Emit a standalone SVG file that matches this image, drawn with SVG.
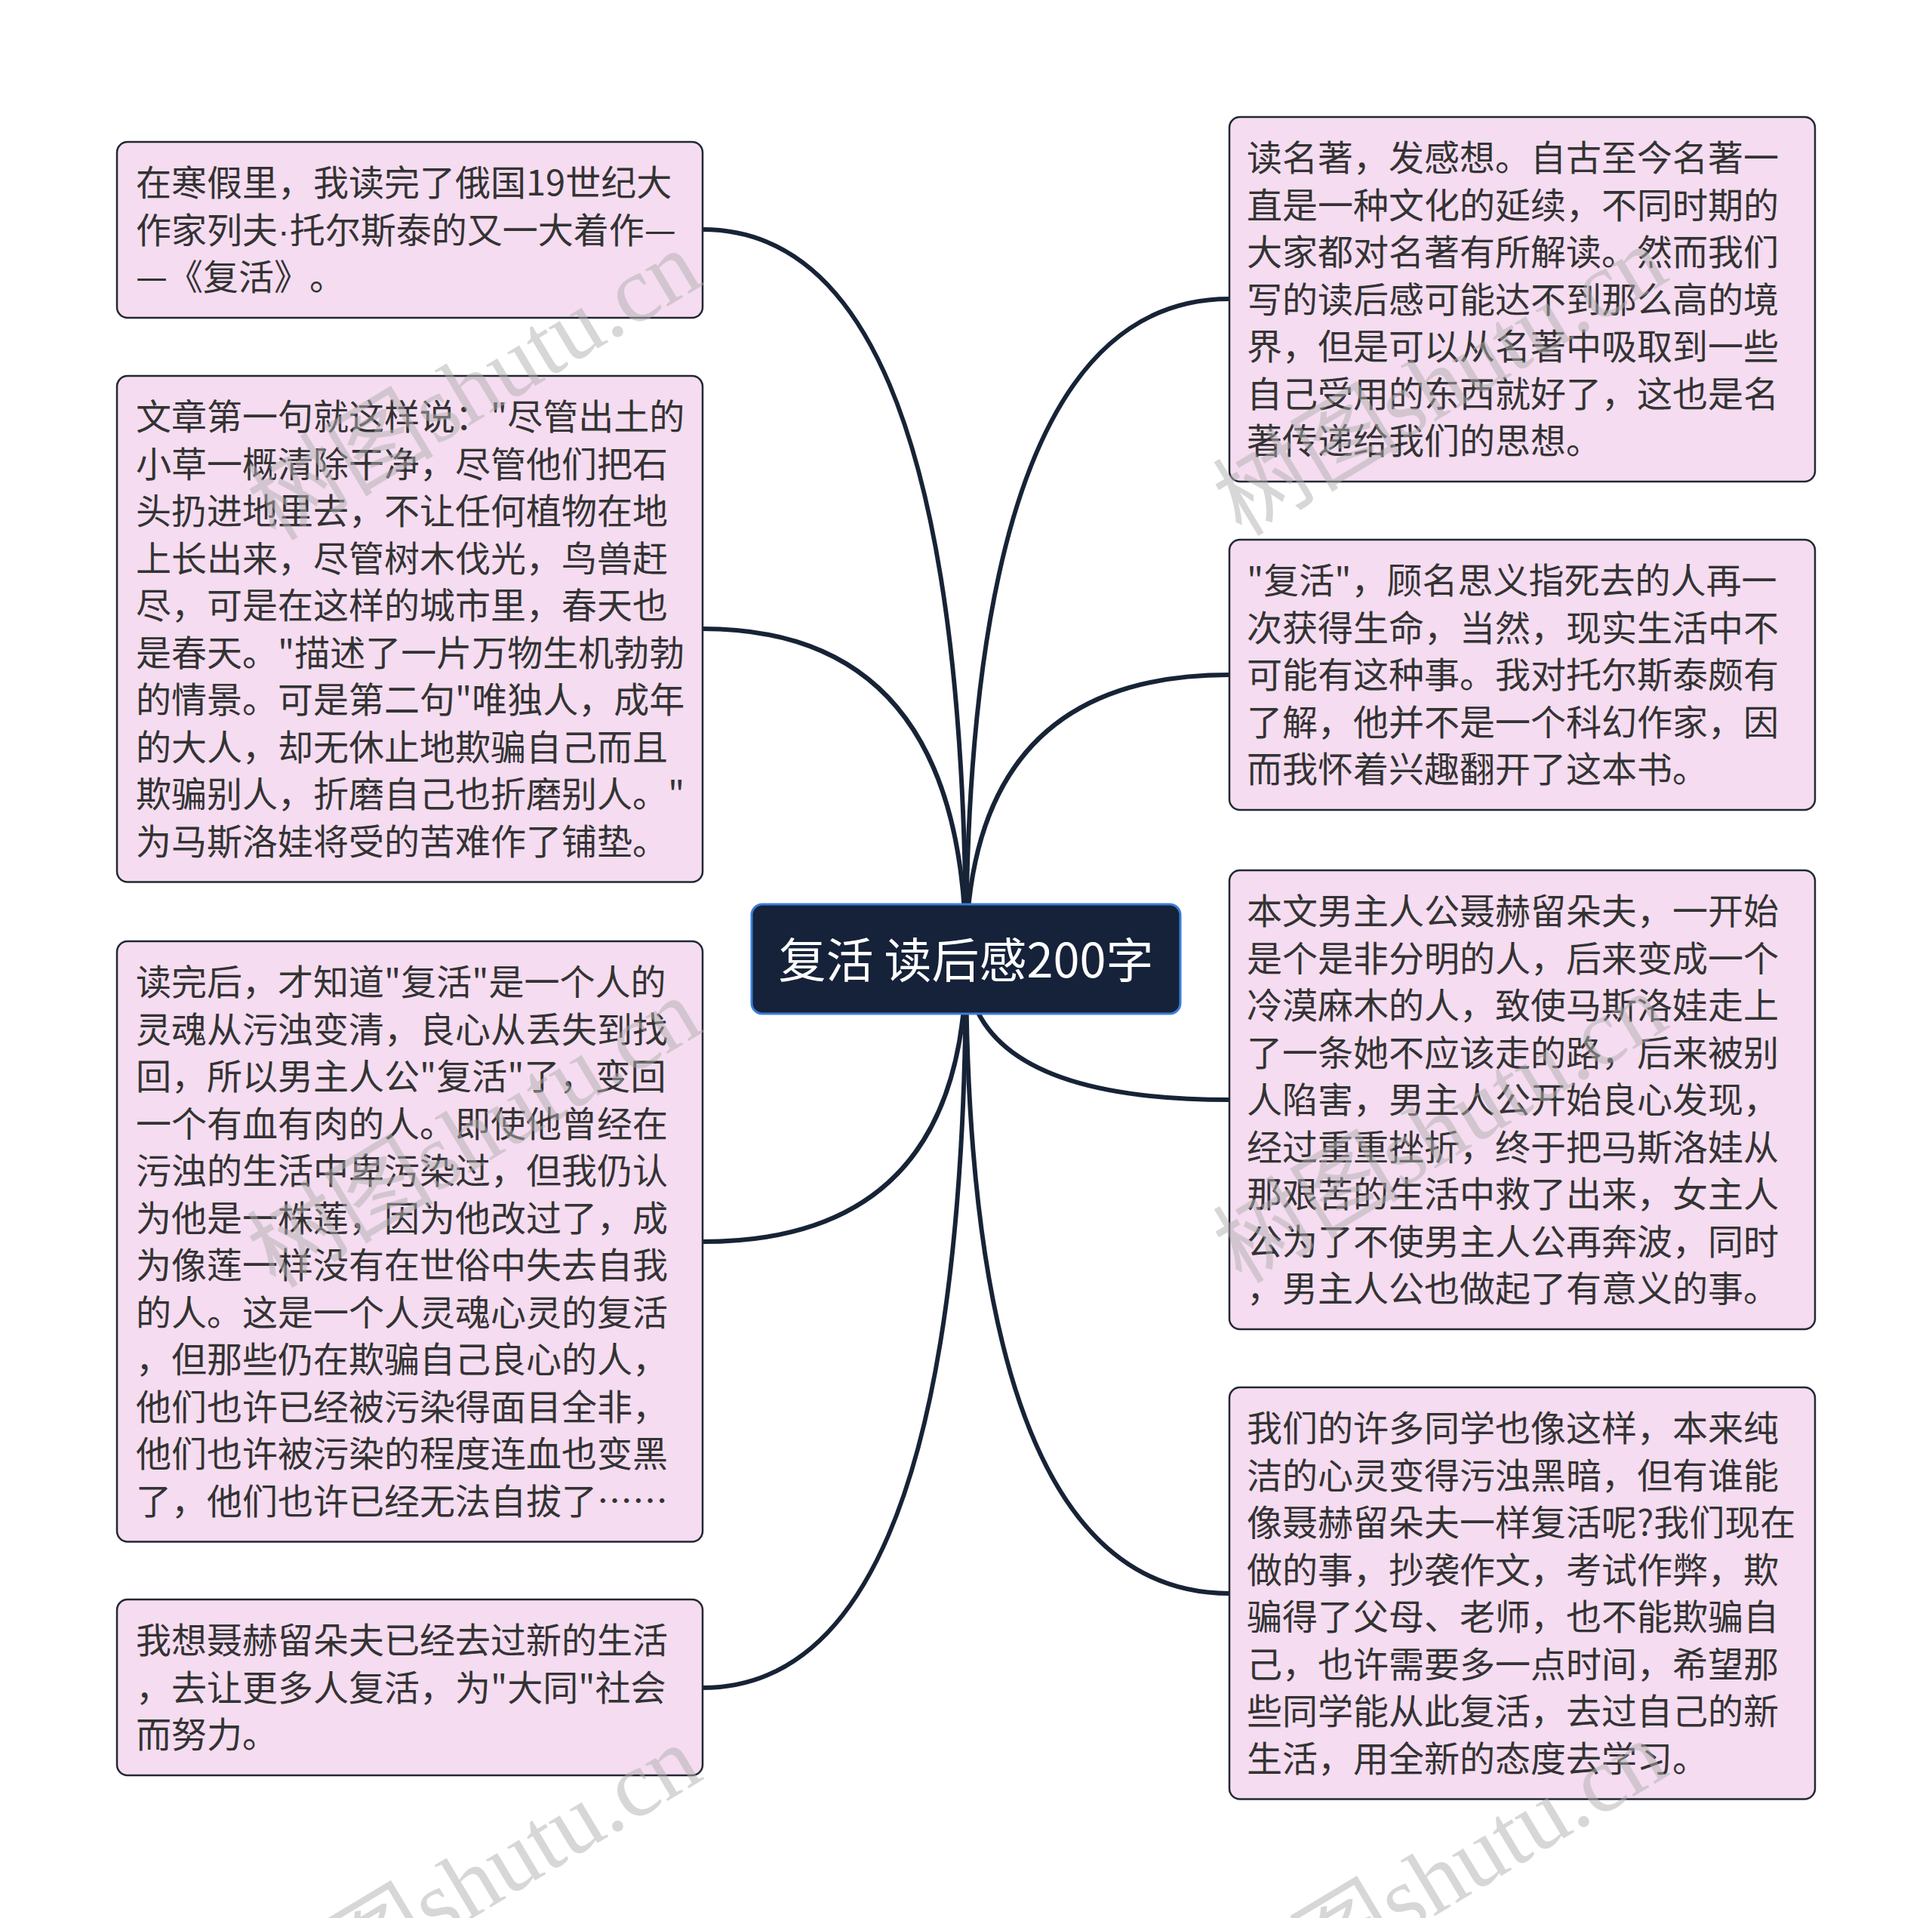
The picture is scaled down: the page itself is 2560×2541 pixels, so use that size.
<svg xmlns="http://www.w3.org/2000/svg" width="2560" height="2541" viewBox="0 0 2560 2541">
<style>
.box{fill:#f5dcf0;stroke:#222831;stroke-width:2.5}
.t{font-family:"Noto Sans CJK SC","Noto Sans",sans-serif;font-size:47px;fill:#333333;text-spacing-trim:space-all}
.dot{font-family:"Liberation Sans",sans-serif}
.conn{fill:none;stroke:#172336;stroke-width:6;stroke-linecap:round}
.wm{font-family:"Liberation Serif","Noto Sans CJK SC",serif;font-size:124px;fill:#b0b0b0;opacity:0.5}
</style>
<rect width="2560" height="2541" fill="#ffffff"/>
<g id="connectors">
<path class="conn" d="M1280 1270 Q1280 304 931 304"/>
<path class="conn" d="M1280 1270 Q1280 833 931 833"/>
<path class="conn" d="M1280 1270 Q1280 1645 931 1645"/>
<path class="conn" d="M1280 1270 Q1280 2236 931 2236"/>
<path class="conn" d="M1280 1270 Q1280 396 1629 396"/>
<path class="conn" d="M1280 1270 Q1280 894 1629 894"/>
<path class="conn" d="M1280 1270 Q1280 1457 1629 1457"/>
<path class="conn" d="M1280 1270 Q1280 2111 1629 2111"/>
</g>
<g id="root">
<rect x="996" y="1198" width="568" height="145" rx="14" fill="#152239" stroke="#3b7ddd" stroke-width="3"/>
<text x="1280" y="1295" text-anchor="middle" font-family="'Noto Sans CJK SC','Noto Sans',sans-serif" font-size="63" fill="#ffffff">复活 读后感200字</text>
</g>
<g id="node-l1">
<rect class="box" x="155" y="188" width="776" height="233" rx="14"/>
<text class="t" x="180" y="259"><tspan x="180">在寒假里，我读完了俄国19世纪大</tspan><tspan x="180" dy="62.5">作家列夫<tspan class="dot">·</tspan>托尔斯泰的又一大着作—</tspan><tspan x="180" dy="62.5">—《复活》。</tspan></text>
</g>
<g id="node-l2">
<rect class="box" x="155" y="498" width="776" height="670.5" rx="14"/>
<text class="t" x="180" y="569"><tspan x="180">文章第一句就这样说："尽管出土的</tspan><tspan x="180" dy="62.5">小草一概清除干净，尽管他们把石</tspan><tspan x="180" dy="62.5">头扔进地里去，不让任何植物在地</tspan><tspan x="180" dy="62.5">上长出来，尽管树木伐光，鸟兽赶</tspan><tspan x="180" dy="62.5">尽，可是在这样的城市里，春天也</tspan><tspan x="180" dy="62.5">是春天。"描述了一片万物生机勃勃</tspan><tspan x="180" dy="62.5">的情景。可是第二句"唯独人，成年</tspan><tspan x="180" dy="62.5">的大人，却无休止地欺骗自己而且</tspan><tspan x="180" dy="62.5">欺骗别人，折磨自己也折磨别人。"</tspan><tspan x="180" dy="62.5">为马斯洛娃将受的苦难作了铺垫。</tspan></text>
</g>
<g id="node-l3">
<rect class="box" x="155" y="1247" width="776" height="795.5" rx="14"/>
<text class="t" x="180" y="1318"><tspan x="180">读完后，才知道"复活"是一个人的</tspan><tspan x="180" dy="62.5">灵魂从污浊变清，良心从丢失到找</tspan><tspan x="180" dy="62.5">回，所以男主人公"复活"了，变回</tspan><tspan x="180" dy="62.5">一个有血有肉的人。即使他曾经在</tspan><tspan x="180" dy="62.5">污浊的生活中卑污染过，但我仍认</tspan><tspan x="180" dy="62.5">为他是一株莲，因为他改过了，成</tspan><tspan x="180" dy="62.5">为像莲一样没有在世俗中失去自我</tspan><tspan x="180" dy="62.5">的人。这是一个人灵魂心灵的复活</tspan><tspan x="180" dy="62.5">，但那些仍在欺骗自己良心的人，</tspan><tspan x="180" dy="62.5">他们也许已经被污染得面目全非，</tspan><tspan x="180" dy="62.5">他们也许被污染的程度连血也变黑</tspan><tspan x="180" dy="62.5">了，他们也许已经无法自拔了……</tspan></text>
</g>
<g id="node-l4">
<rect class="box" x="155" y="2119" width="776" height="233" rx="14"/>
<text class="t" x="180" y="2190"><tspan x="180">我想聂赫留朵夫已经去过新的生活</tspan><tspan x="180" dy="62.5">，去让更多人复活，为"大同"社会</tspan><tspan x="180" dy="62.5">而努力。</tspan></text>
</g>
<g id="node-r1">
<rect class="box" x="1629" y="155" width="776" height="483" rx="14"/>
<text class="t" x="1652" y="226"><tspan x="1652">读名著，发感想。自古至今名著一</tspan><tspan x="1652" dy="62.5">直是一种文化的延续，不同时期的</tspan><tspan x="1652" dy="62.5">大家都对名著有所解读。然而我们</tspan><tspan x="1652" dy="62.5">写的读后感可能达不到那么高的境</tspan><tspan x="1652" dy="62.5">界，但是可以从名著中吸取到一些</tspan><tspan x="1652" dy="62.5">自己受用的东西就好了，这也是名</tspan><tspan x="1652" dy="62.5">著传递给我们的思想。</tspan></text>
</g>
<g id="node-r2">
<rect class="box" x="1629" y="715" width="776" height="358" rx="14"/>
<text class="t" x="1652" y="786"><tspan x="1652">"复活"，顾名思义指死去的人再一</tspan><tspan x="1652" dy="62.5">次获得生命，当然，现实生活中不</tspan><tspan x="1652" dy="62.5">可能有这种事。我对托尔斯泰颇有</tspan><tspan x="1652" dy="62.5">了解，他并不是一个科幻作家，因</tspan><tspan x="1652" dy="62.5">而我怀着兴趣翻开了这本书。</tspan></text>
</g>
<g id="node-r3">
<rect class="box" x="1629" y="1153" width="776" height="608" rx="14"/>
<text class="t" x="1652" y="1224"><tspan x="1652">本文男主人公聂赫留朵夫，一开始</tspan><tspan x="1652" dy="62.5">是个是非分明的人，后来变成一个</tspan><tspan x="1652" dy="62.5">冷漠麻木的人，致使马斯洛娃走上</tspan><tspan x="1652" dy="62.5">了一条她不应该走的路，后来被别</tspan><tspan x="1652" dy="62.5">人陷害，男主人公开始良心发现，</tspan><tspan x="1652" dy="62.5">经过重重挫折，终于把马斯洛娃从</tspan><tspan x="1652" dy="62.5">那艰苦的生活中救了出来，女主人</tspan><tspan x="1652" dy="62.5">公为了不使男主人公再奔波，同时</tspan><tspan x="1652" dy="62.5">，男主人公也做起了有意义的事。</tspan></text>
</g>
<g id="node-r4">
<rect class="box" x="1629" y="1838" width="776" height="545.5" rx="14"/>
<text class="t" x="1652" y="1909"><tspan x="1652">我们的许多同学也像这样，本来纯</tspan><tspan x="1652" dy="62.5">洁的心灵变得污浊黑暗，但有谁能</tspan><tspan x="1652" dy="62.5">像聂赫留朵夫一样复活呢?我们现在</tspan><tspan x="1652" dy="62.5">做的事，抄袭作文，考试作弊，欺</tspan><tspan x="1652" dy="62.5">骗得了父母、老师，也不能欺骗自</tspan><tspan x="1652" dy="62.5">己，也许需要多一点时间，希望那</tspan><tspan x="1652" dy="62.5">些同学能从此复活，去过自己的新</tspan><tspan x="1652" dy="62.5">生活，用全新的态度去学习。</tspan></text>
</g>
<g id="watermarks">
<text class="wm" transform="translate(365 718) rotate(-31)">树图shutu.cn</text>
<text class="wm" transform="translate(1645 712) rotate(-31)">树图shutu.cn</text>
<text class="wm" transform="translate(365 1708) rotate(-31)">树图shutu.cn</text>
<text class="wm" transform="translate(1645 1702) rotate(-31)">树图shutu.cn</text>
<text class="wm" transform="translate(365 2698) rotate(-31)">树图shutu.cn</text>
<text class="wm" transform="translate(1645 2692) rotate(-31)">树图shutu.cn</text>
</g>
</svg>
